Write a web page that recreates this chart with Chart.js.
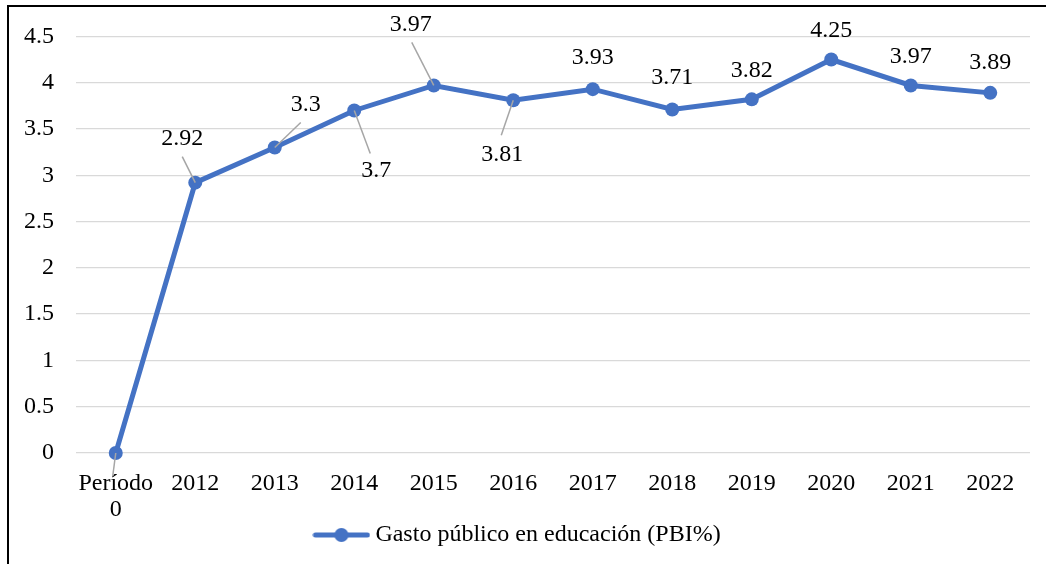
<!DOCTYPE html>
<html>
<head>
<meta charset="utf-8">
<script src="https://cdn.jsdelivr.net/npm/chart.js@4"></script>
<style>
  html, body { margin:0; padding:0; background:#fff; }
  #wrap { width:1046px; height:564px; position:relative; }
</style>
</head>
<body>
<div id="wrap"><canvas id="chart"></canvas></div>
<script>
// ---------------------------
// Data
// ---------------------------
const categories = [['Período','0'],'2012','2013','2014','2015','2016','2017','2018','2019','2020','2021','2022'];
const gastoValues = [0, 2.92, 3.3, 3.7, 3.97, 3.81, 3.93, 3.71, 3.82, 4.25, 3.97, 3.89];
const seriesName = 'Gasto público en educación (PBI%)';
const yTicks = [0, 0.5, 1, 1.5, 2, 2.5, 3, 3.5, 4, 4.5];

// label placement relative to each point: text offset, optional leader end
const labelPlacement = [
  { hide:true, leader:[-3, 23] },
  { dx:-13, dy:-44, leader:[-13, -26] },
  { dx:31, dy:-43, leader:[26, -25] },
  { dx:22, dy:60, leader:[16, 43] },
  { dx:-23, dy:-61, leader:[-22, -43] },
  { dx:-11, dy:54, leader:[-12, 35] },
  { dx:0, dy:-31 },
  { dx:0, dy:-32 },
  { dx:0, dy:-29 },
  { dx:0, dy:-29 },
  { dx:0, dy:-29 },
  { dx:0, dy:-30 }
];

const BLUE = '#4472C4';
const FONT = '"Liberation Serif", "Times New Roman", serif';
const FSIZE = 24;

// legend marker: line with a dot
function legendMarker(){
  const c = document.createElement('canvas');
  c.width = 58; c.height = 16;
  const g = c.getContext('2d');
  g.strokeStyle = BLUE; g.lineWidth = 5; g.lineCap = 'round';
  g.beginPath(); g.moveTo(3, 8); g.lineTo(55, 8); g.stroke();
  g.fillStyle = BLUE;
  g.beginPath(); g.arc(29, 8, 7, 0, Math.PI*2); g.fill();
  return c;
}

const dataLabels = {
  id:'dataLabels',
  afterDatasetsDraw(chart){
    const ctx = chart.ctx;
    const meta = chart.getDatasetMeta(0);
    ctx.save();
    ctx.font = FSIZE + 'px ' + FONT;
    ctx.textAlign = 'center';
    ctx.textBaseline = 'middle';
    meta.data.forEach((pt, i)=>{
      const p = labelPlacement[i];
      if (p.leader) {
        ctx.strokeStyle = '#a6a6a6'; ctx.lineWidth = 1.5;
        ctx.beginPath(); ctx.moveTo(pt.x, pt.y);
        ctx.lineTo(pt.x + p.leader[0], pt.y + p.leader[1]); ctx.stroke();
      }
      if (!p.hide) {
        ctx.fillStyle = '#000';
        ctx.fillText(String(gastoValues[i]), pt.x + p.dx, pt.y + p.dy);
      }
    });
    ctx.restore();
  }
};

const frame = {
  id:'frame',
  afterDraw(chart){
    const ctx = chart.ctx;
    ctx.save();
    ctx.strokeStyle = '#000'; ctx.lineWidth = 2;
    ctx.strokeRect(8, 6, 1100, 600);
    ctx.restore();
  }
};

const chart = new Chart(document.getElementById('chart'), {
  type:'line',
  data:{
    labels: categories,
    datasets:[{
      label: seriesName,
      data: gastoValues,
      borderColor: BLUE,
      backgroundColor: BLUE,
      borderWidth: 5,
      pointRadius: 7,
      pointHoverRadius: 7,
      pointBackgroundColor: BLUE,
      pointBorderColor: BLUE,
      pointBorderWidth: 0,
      tension: 0,
      clip: false
    }]
  },
  options:{
    responsive:true, maintainAspectRatio:false, animation:false,
    layout:{ padding:{ left:10, right:16, top:35, bottom:14 } },
    plugins:{
      legend:{
        position:'bottom',
        labels:{
          usePointStyle:true,
          pointStyle: legendMarker(),
          pointStyleWidth:44,
          boxHeight:16,
          color:'#000',
          padding:0,
          font:{ family:FONT, size:FSIZE }
        }
      },
      tooltip:{ enabled:false }
    },
    scales:{
      x:{
        offset:true,
        afterFit(s){ s.height = 70; },
        grid:{ display:false },
        border:{ display:false },
        ticks:{ color:'#000', padding:10, maxRotation:0, font:{ family:FONT, size:FSIZE, lineHeight:1.08 } }
      },
      y:{
        min:0, max:4.5,
        afterFit(s){ s.width = 66; },
        afterBuildTicks(s){ s.ticks = yTicks.map(v=>({ value:v })); },
        grid:{ color:'#d9d9d9', lineWidth:1.3, drawTicks:false },
        border:{ display:false },
        ticks:{ color:'#000', padding:22, font:{ family:FONT, size:FSIZE }, callback:v=>String(v) }
      }
    }
  },
  plugins:[dataLabels, frame]
});

// keep the legend strip short so the plot reaches down like the original
const legendFit = chart.legend.fit.bind(chart.legend);
chart.legend.fit = function(){ legendFit(); this.height = 27; };
chart.update();
</script>
</body>
</html>
